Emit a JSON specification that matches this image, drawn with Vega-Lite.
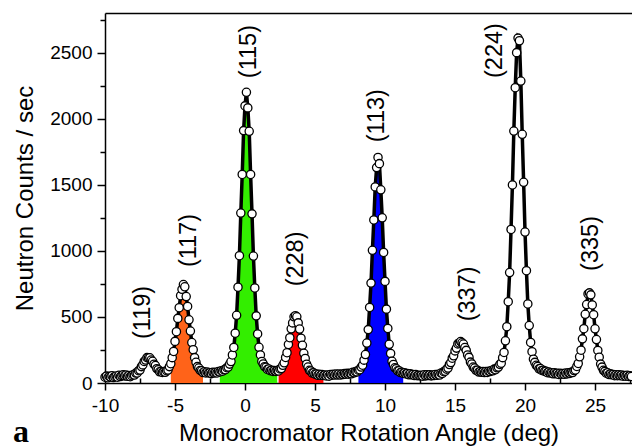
{
  "$schema": "https://vega.github.io/schema/vega-lite/v6.json",
  "width": 527,
  "height": 370,
  "autosize": {"type": "none"},
  "padding": {"left": 105, "top": 13, "right": 0, "bottom": 65},
  "background": "white",
  "config": {
    "view": {"stroke": null},
    "axis": {"grid": false, "domainColor": "#000", "domainWidth": 1.5, "tickColor": "#000", "tickWidth": 1.5, "labelFont": "Liberation Sans", "labelFontSize": 19, "labelColor": "#000", "titleFont": "Liberation Sans", "titleFontSize": 24, "titleFontWeight": "normal", "titleColor": "#000", "labelFlush": false, "labelOverlap": false}
  },
  "datasets": {
    "scan": [
      {"x":-10.0,"y":44},{"x":-9.9,"y":52},{"x":-9.8,"y":39},{"x":-9.7,"y":50},{"x":-9.6,"y":46},{"x":-9.5,"y":55},{"x":-9.4,"y":41},{"x":-9.3,"y":48},{"x":-9.2,"y":53},{"x":-9.1,"y":44},
      {"x":-9.0,"y":58},{"x":-8.9,"y":49},{"x":-8.8,"y":56},{"x":-8.7,"y":62},{"x":-8.6,"y":54},{"x":-8.5,"y":60},{"x":-8.4,"y":51},{"x":-8.3,"y":57},{"x":-8.2,"y":48},{"x":-8.1,"y":55},
      {"x":-8.0,"y":63},{"x":-7.9,"y":60},{"x":-7.8,"y":75},{"x":-7.7,"y":76},{"x":-7.6,"y":93},{"x":-7.5,"y":98},{"x":-7.4,"y":124},{"x":-7.3,"y":137},{"x":-7.2,"y":163},{"x":-7.1,"y":174},
      {"x":-7.0,"y":192},{"x":-6.9,"y":190},{"x":-6.8,"y":191},{"x":-6.7,"y":174},{"x":-6.6,"y":164},{"x":-6.5,"y":142},{"x":-6.4,"y":132},{"x":-6.3,"y":108},{"x":-6.2,"y":101},{"x":-6.1,"y":85},
      {"x":-6.0,"y":87},{"x":-5.9,"y":80},{"x":-5.8,"y":86},{"x":-5.7,"y":81},{"x":-5.6,"y":93},{"x":-5.5,"y":98},{"x":-5.4,"y":124},{"x":-5.3,"y":146,"p":"117"},{"x":-5.2,"y":192,"p":"117"},{"x":-5.1,"y":239,"p":"117"},
      {"x":-5.0,"y":315,"p":"117"},{"x":-4.9,"y":388,"p":"117"},{"x":-4.8,"y":489,"p":"117"},{"x":-4.7,"y":570,"p":"117"},{"x":-4.6,"y":661,"p":"117"},{"x":-4.5,"y":709,"p":"117"},{"x":-4.4,"y":745,"p":"117"},{"x":-4.3,"y":728,"p":"117"},{"x":-4.2,"y":654,"p":"117"},{"x":-4.1,"y":579,"p":"117"},
      {"x":-4.0,"y":478,"p":"117"},{"x":-3.9,"y":393,"p":"117"},{"x":-3.8,"y":306,"p":"117"},{"x":-3.7,"y":252,"p":"117"},{"x":-3.6,"y":192,"p":"117"},{"x":-3.5,"y":157,"p":"117"},{"x":-3.4,"y":124,"p":"117"},{"x":-3.3,"y":113,"p":"117"},{"x":-3.2,"y":95,"p":"117"},{"x":-3.1,"y":92,"p":"117"},
      {"x":-3.0,"y":79,"p":"117"},{"x":-2.9,"y":85},{"x":-2.8,"y":76},{"x":-2.7,"y":84},{"x":-2.6,"y":76},{"x":-2.5,"y":78},{"x":-2.4,"y":71},{"x":-2.3,"y":81},{"x":-2.2,"y":75},{"x":-2.1,"y":81},
      {"x":-2.0,"y":76},{"x":-1.9,"y":87},{"x":-1.8,"y":84,"p":"115"},{"x":-1.7,"y":93,"p":"115"},{"x":-1.6,"y":89,"p":"115"},{"x":-1.5,"y":100,"p":"115"},{"x":-1.4,"y":101,"p":"115"},{"x":-1.3,"y":116,"p":"115"},{"x":-1.2,"y":121,"p":"115"},{"x":-1.1,"y":143,"p":"115"},
      {"x":-1.0,"y":162,"p":"115"},{"x":-0.9,"y":212,"p":"115"},{"x":-0.8,"y":269,"p":"115"},{"x":-0.7,"y":377,"p":"115"},{"x":-0.6,"y":512,"p":"115"},{"x":-0.5,"y":725,"p":"115"},{"x":-0.4,"y":963,"p":"115"},{"x":-0.3,"y":1286,"p":"115"},{"x":-0.2,"y":1578,"p":"115"},{"x":-0.1,"y":1910,"p":"115"},
      {"x":0.0,"y":2097,"p":"115"},{"x":0.1,"y":2200,"p":"115"},{"x":0.2,"y":2082,"p":"115"},{"x":0.3,"y":1905,"p":"115"},{"x":0.4,"y":1578,"p":"115"},{"x":0.5,"y":1280,"p":"115"},{"x":0.6,"y":961,"p":"115"},{"x":0.7,"y":719,"p":"115"},{"x":0.8,"y":508,"p":"115"},{"x":0.9,"y":371,"p":"115"},
      {"x":1.0,"y":270,"p":"115"},{"x":1.1,"y":212,"p":"115"},{"x":1.2,"y":163,"p":"115"},{"x":1.3,"y":144,"p":"115"},{"x":1.4,"y":123,"p":"115"},{"x":1.5,"y":119,"p":"115"},{"x":1.6,"y":103,"p":"115"},{"x":1.7,"y":106,"p":"115"},{"x":1.8,"y":93,"p":"115"},{"x":1.9,"y":96,"p":"115"},
      {"x":2.0,"y":88,"p":"115"},{"x":2.1,"y":94,"p":"115"},{"x":2.2,"y":88,"p":"115"},{"x":2.3,"y":95,"p":"115"},{"x":2.4,"y":91,"p":"228"},{"x":2.5,"y":106,"p":"228"},{"x":2.6,"y":109,"p":"228"},{"x":2.7,"y":134,"p":"228"},{"x":2.8,"y":153,"p":"228"},{"x":2.9,"y":193,"p":"228"},
      {"x":3.0,"y":229,"p":"228"},{"x":3.1,"y":292,"p":"228"},{"x":3.2,"y":343,"p":"228"},{"x":3.3,"y":410,"p":"228"},{"x":3.4,"y":455,"p":"228"},{"x":3.5,"y":501,"p":"228"},{"x":3.6,"y":509,"p":"228"},{"x":3.7,"y":501,"p":"228"},{"x":3.8,"y":455,"p":"228"},{"x":3.9,"y":408,"p":"228"},
      {"x":4.0,"y":339,"p":"228"},{"x":4.1,"y":285,"p":"228"},{"x":4.2,"y":225,"p":"228"},{"x":4.3,"y":186,"p":"228"},{"x":4.4,"y":142,"p":"228"},{"x":4.5,"y":121,"p":"228"},{"x":4.6,"y":96,"p":"228"},{"x":4.7,"y":91,"p":"228"},{"x":4.8,"y":75,"p":"228"},{"x":4.9,"y":77,"p":"228"},
      {"x":5.0,"y":67,"p":"228"},{"x":5.1,"y":68,"p":"228"},{"x":5.2,"y":58,"p":"228"},{"x":5.3,"y":66,"p":"228"},{"x":5.4,"y":58,"p":"228"},{"x":5.5,"y":65,"p":"228"},{"x":5.6,"y":56,"p":"228"},{"x":5.7,"y":61},{"x":5.8,"y":53},{"x":5.9,"y":61},
      {"x":6.0,"y":52},{"x":6.1,"y":65},{"x":6.2,"y":59},{"x":6.3,"y":66},{"x":6.4,"y":60},{"x":6.5,"y":68},{"x":6.6,"y":61},{"x":6.7,"y":68},{"x":6.8,"y":60},{"x":6.9,"y":68},
      {"x":7.0,"y":64},{"x":7.1,"y":71},{"x":7.2,"y":67},{"x":7.3,"y":73},{"x":7.4,"y":67},{"x":7.5,"y":73},{"x":7.6,"y":70},{"x":7.7,"y":81},{"x":7.8,"y":77},{"x":7.9,"y":86},
      {"x":8.0,"y":84},{"x":8.1,"y":97,"p":"113"},{"x":8.2,"y":101,"p":"113"},{"x":8.3,"y":121,"p":"113"},{"x":8.4,"y":135,"p":"113"},{"x":8.5,"y":173,"p":"113"},{"x":8.6,"y":215,"p":"113"},{"x":8.7,"y":302,"p":"113"},{"x":8.8,"y":404,"p":"113"},{"x":8.9,"y":572,"p":"113"},
      {"x":9.0,"y":756,"p":"113"},{"x":9.1,"y":1004,"p":"113"},{"x":9.2,"y":1234,"p":"113"},{"x":9.3,"y":1484,"p":"113"},{"x":9.4,"y":1630,"p":"113"},{"x":9.5,"y":1707,"p":"113"},{"x":9.6,"y":1660,"p":"113"},{"x":9.7,"y":1462,"p":"113"},{"x":9.8,"y":1250,"p":"113"},{"x":9.9,"y":988,"p":"113"},
      {"x":10.0,"y":769,"p":"113"},{"x":10.1,"y":559,"p":"113"},{"x":10.2,"y":413,"p":"113"},{"x":10.3,"y":293,"p":"113"},{"x":10.4,"y":224,"p":"113"},{"x":10.5,"y":164,"p":"113"},{"x":10.6,"y":140,"p":"113"},{"x":10.7,"y":115,"p":"113"},{"x":10.8,"y":108,"p":"113"},{"x":10.9,"y":92,"p":"113"},
      {"x":11.0,"y":93,"p":"113"},{"x":11.1,"y":79,"p":"113"},{"x":11.2,"y":81,"p":"113"},{"x":11.3,"y":73,"p":"113"},{"x":11.4,"y":77},{"x":11.5,"y":69},{"x":11.6,"y":72},{"x":11.7,"y":62},{"x":11.8,"y":70},{"x":11.9,"y":62},
      {"x":12.0,"y":64},{"x":12.1,"y":56},{"x":12.2,"y":64},{"x":12.3,"y":55},{"x":12.4,"y":59},{"x":12.5,"y":54},{"x":12.6,"y":59},{"x":12.7,"y":52},{"x":12.8,"y":63},{"x":12.9,"y":54},
      {"x":13.0,"y":62},{"x":13.1,"y":56},{"x":13.2,"y":63},{"x":13.3,"y":54},{"x":13.4,"y":61},{"x":13.5,"y":56},{"x":13.6,"y":65},{"x":13.7,"y":58},{"x":13.8,"y":66},{"x":13.9,"y":60},
      {"x":14.0,"y":75},{"x":14.1,"y":72},{"x":14.2,"y":86},{"x":14.3,"y":89},{"x":14.4,"y":105},{"x":14.5,"y":113},{"x":14.6,"y":140},{"x":14.7,"y":155},{"x":14.8,"y":188},{"x":14.9,"y":206},
      {"x":15.0,"y":243},{"x":15.1,"y":264},{"x":15.2,"y":296},{"x":15.3,"y":303},{"x":15.4,"y":314},{"x":15.5,"y":304},{"x":15.6,"y":295},{"x":15.7,"y":268},{"x":15.8,"y":247},{"x":15.9,"y":212},
      {"x":16.0,"y":194},{"x":16.1,"y":158},{"x":16.2,"y":144},{"x":16.3,"y":121},{"x":16.4,"y":113},{"x":16.5,"y":96},{"x":16.6,"y":97},{"x":16.7,"y":83},{"x":16.8,"y":87},{"x":16.9,"y":81},
      {"x":17.0,"y":86},{"x":17.1,"y":79},{"x":17.2,"y":87},{"x":17.3,"y":80},{"x":17.4,"y":89},{"x":17.5,"y":87},{"x":17.6,"y":95},{"x":17.7,"y":92},{"x":17.8,"y":105},{"x":17.9,"y":101},
      {"x":18.0,"y":115},{"x":18.1,"y":121},{"x":18.2,"y":141},{"x":18.3,"y":150},{"x":18.4,"y":192},{"x":18.5,"y":231},{"x":18.6,"y":319},{"x":18.7,"y":426},{"x":18.8,"y":615},{"x":18.9,"y":836},
      {"x":19.0,"y":1162},{"x":19.1,"y":1499},{"x":19.2,"y":1907},{"x":19.3,"y":2235},{"x":19.4,"y":2500},{"x":19.5,"y":2610},{"x":19.6,"y":2590},{"x":19.7,"y":2285},{"x":19.8,"y":1882},{"x":19.9,"y":1519},
      {"x":20.0,"y":1142},{"x":20.1,"y":850},{"x":20.2,"y":598},{"x":20.3,"y":435},{"x":20.4,"y":307},{"x":20.5,"y":237},{"x":20.6,"y":180},{"x":20.7,"y":156},{"x":20.8,"y":134},{"x":20.9,"y":125},
      {"x":21.0,"y":107},{"x":21.1,"y":109},{"x":21.2,"y":95},{"x":21.3,"y":97},{"x":21.4,"y":88},{"x":21.5,"y":89},{"x":21.6,"y":78},{"x":21.7,"y":84},{"x":21.8,"y":75},{"x":21.9,"y":78},
      {"x":22.0,"y":70},{"x":22.1,"y":78},{"x":22.2,"y":70},{"x":22.3,"y":74},{"x":22.4,"y":65},{"x":22.5,"y":74},{"x":22.6,"y":67},{"x":22.7,"y":72},{"x":22.8,"y":66},{"x":22.9,"y":75},
      {"x":23.0,"y":69},{"x":23.1,"y":77},{"x":23.2,"y":73},{"x":23.3,"y":81},{"x":23.4,"y":79},{"x":23.5,"y":94},{"x":23.6,"y":99},{"x":23.7,"y":125},{"x":23.8,"y":148},{"x":23.9,"y":198},
      {"x":24.0,"y":248},{"x":24.1,"y":334},{"x":24.2,"y":411},{"x":24.3,"y":520},{"x":24.4,"y":594},{"x":24.5,"y":674},{"x":24.6,"y":682},{"x":24.7,"y":667},{"x":24.8,"y":591},{"x":24.9,"y":517},
      {"x":25.0,"y":410},{"x":25.1,"y":329},{"x":25.2,"y":246},{"x":25.3,"y":195},{"x":25.4,"y":143},{"x":25.5,"y":120},{"x":25.6,"y":96},{"x":25.7,"y":88},{"x":25.8,"y":74},{"x":25.9,"y":77},
      {"x":26.0,"y":64},{"x":26.1,"y":69},{"x":26.2,"y":62},{"x":26.3,"y":65},{"x":26.4,"y":55},{"x":26.5,"y":62},{"x":26.6,"y":55},{"x":26.7,"y":62},{"x":26.8,"y":55},{"x":26.9,"y":60},
      {"x":27.0,"y":52},{"x":27.1,"y":57},{"x":27.2,"y":52},{"x":27.3,"y":59},{"x":27.4,"y":50},{"x":27.5,"y":55},{"x":27.6,"y":49}
    ],
    "labels": [
      {"x":-7.32,"y":534,"t":"(119)"},
      {"x":-4.0,"y":1078,"t":"(117)"},
      {"x":0.29,"y":2508,"t":"(115)"},
      {"x":3.61,"y":939,"t":"(228)"},
      {"x":9.43,"y":2023,"t":"(113)"},
      {"x":15.91,"y":674,"t":"(337)"},
      {"x":17.82,"y":2516,"t":"(224)"},
      {"x":24.71,"y":1056,"t":"(335)"}
    ],
    "panel": [{"x":-16.0,"y":-446,"t":"a"}]
  },
  "layer": [
    {
      "data": {"name": "scan"},
      "transform": [{"filter": "datum.p != null"}],
      "mark": {"type": "area", "opacity": 1},
      "encoding": {
        "x": {"field": "x", "type": "quantitative", "scale": {"domain": [-10, 27.64], "nice": false, "zero": false},
          "axis": {"orient": "bottom", "values": [-10, -5, 0, 5, 10, 15, 20, 25], "labelExpr": "toString(datum.value)", "tickSize": 7, "labelPadding": 6, "title": "Monocromator Rotation Angle (deg)", "titlePadding": 6}},
        "y": {"field": "y", "type": "quantitative", "stack": null, "scale": {"domain": [0, 2800], "nice": false, "zero": false},
          "axis": {"orient": "left", "values": [0, 500, 1000, 1500, 2000, 2500], "labelExpr": "toString(datum.value)", "tickSize": 8, "labelPadding": 5, "title": "Neutron Counts / sec", "titlePadding": 12}},
        "color": {"field": "p", "type": "nominal", "scale": {"domain": ["117", "115", "228", "113"], "range": ["#ff6319", "#33ee00", "#ff0000", "#0000ff"]}, "legend": null}
      }
    },
    {
      "data": {"name": "scan"},
      "mark": {"type": "line", "color": "#000", "strokeWidth": 3.5},
      "encoding": {
        "x": {"field": "x", "type": "quantitative", "scale": {"domain": [-10, 27.64], "nice": false, "zero": false},
          "axis": {"orient": "bottom", "values": [-7.5, -2.5, 2.5, 7.5, 12.5, 17.5, 22.5, 27.5], "tickSize": -5, "labels": false, "domain": false, "title": null}},
        "y": {"field": "y", "type": "quantitative", "scale": {"domain": [0, 2800], "nice": false, "zero": false},
          "axis": {"orient": "left", "values": [250, 750, 1250, 1750, 2250, 2750], "tickSize": 5, "labels": false, "domain": false, "title": null}}
      }
    },
    {
      "data": {"name": "scan"},
      "mark": {"type": "point", "shape": "circle", "filled": true, "fill": "#fff", "stroke": "#000", "strokeWidth": 1.3, "size": 68, "opacity": 1},
      "encoding": {
        "x": {"field": "x", "type": "quantitative", "scale": {"domain": [-10, 27.64], "nice": false, "zero": false}, "axis": null},
        "y": {"field": "y", "type": "quantitative", "scale": {"domain": [0, 2800], "nice": false, "zero": false}, "axis": null}
      }
    },
    {
      "data": {"name": "labels"},
      "mark": {"type": "text", "angle": 270, "font": "Liberation Sans", "fontSize": 23.5, "align": "center", "baseline": "middle", "color": "#000"},
      "encoding": {
        "x": {"field": "x", "type": "quantitative", "scale": {"domain": [-10, 27.64], "nice": false, "zero": false},
          "axis": {"orient": "top", "labels": false, "ticks": false, "domain": true, "title": null}},
        "y": {"field": "y", "type": "quantitative", "scale": {"domain": [0, 2800], "nice": false, "zero": false}, "axis": null},
        "text": {"field": "t"}
      }
    },
    {
      "data": {"name": "panel"},
      "mark": {"type": "text", "font": "Liberation Serif", "fontWeight": "bold", "fontSize": 32, "align": "center", "baseline": "alphabetic", "color": "#000"},
      "encoding": {
        "x": {"field": "x", "type": "quantitative", "scale": {"domain": [-10, 27.64], "nice": false, "zero": false}, "axis": null},
        "y": {"field": "y", "type": "quantitative", "scale": {"domain": [0, 2800], "nice": false, "zero": false}, "axis": null},
        "text": {"field": "t"}
      }
    }
  ],
  "resolve": {"axis": {"x": "independent", "y": "independent"}}
}
